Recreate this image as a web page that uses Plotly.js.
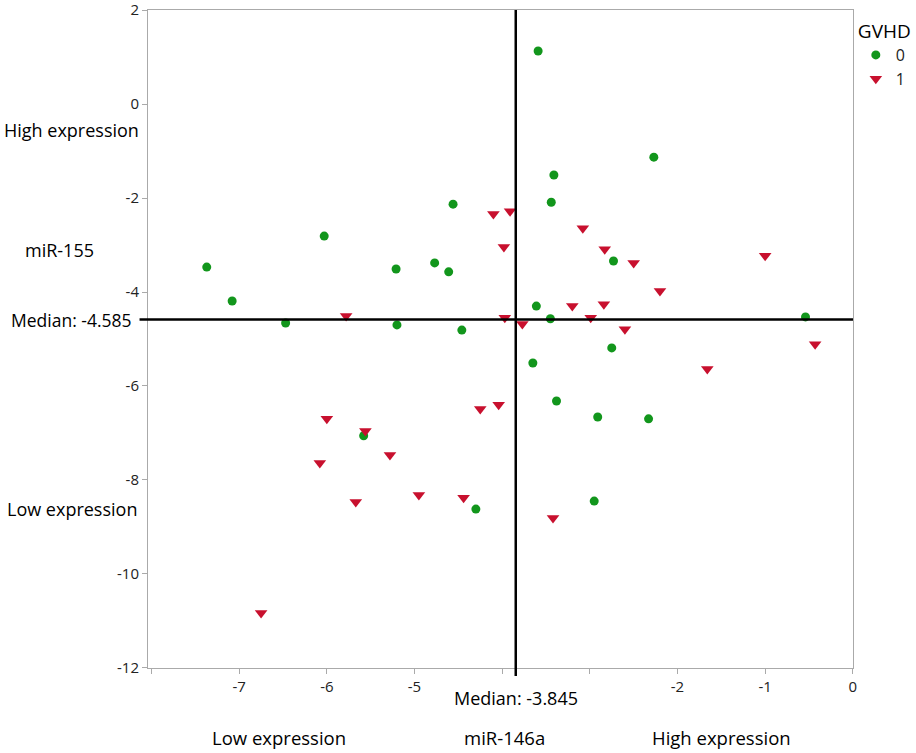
<!DOCTYPE html>
<html>
<head>
<meta charset="utf-8">
<script src="https://cdn.plot.ly/plotly-3.0.1.min.js"></script>
<style>
  html, body { margin: 0; padding: 0; background: #ffffff; }
  #grafico { width: 916px; height: 753px; }
</style>
</head>
<body>
<div id="grafico"></div>
<script>
// GVHD = 0 (circulos verdes)
var gvhd0X = [-3.59, -2.27, -3.41, -3.44, -4.56, -6.03, -7.37, -7.08, -6.47, -5.21, -4.77, -4.61, -5.20,
              -4.46, -2.73, -3.61, -3.45, -0.54, -2.75, -3.65, -3.38, -2.91, -2.33, -2.95, -5.58, -4.30];
var gvhd0Y = [1.13, -1.13, -1.51, -2.09, -2.13, -2.81, -3.47, -4.19, -4.66, -3.51, -3.38, -3.57, -4.70,
              -4.81, -3.34, -4.30, -4.57, -4.53, -5.19, -5.51, -6.32, -6.66, -6.70, -8.45, -7.06, -8.62];

// GVHD = 1 (triangulos vermelhos)
var gvhd1X = [-4.10, -3.91, -3.98, -5.78, -3.97, -3.08, -2.83, -2.50, -1.00, -2.20, -3.20, -2.84, -2.99, -3.77,
              -2.60, -0.43, -1.66, -4.25, -4.04, -6.00, -5.56, -6.08, -5.28, -5.67, -4.95, -4.44, -6.75, -3.42];
var gvhd1Y = [-2.34, -2.28, -3.04, -4.51, -4.55, -2.64, -3.09, -3.38, -3.23, -3.98, -4.30, -4.26, -4.55, -4.68,
              -4.79, -5.11, -5.64, -6.49, -6.40, -6.70, -6.96, -7.64, -7.47, -8.47, -8.32, -8.38, -10.83, -8.81];

// medianas
var medianaX = -3.845;
var medianaY = -4.585;

// ticks
var xTickVals = [-8, -7, -6, -5, -4, -3, -2, -1, 0];
var xTickText = ['', '-7', '-6', '-5', '', '', '-2', '-1', '0'];
var yTickVals = [2, 0, -2, -4, -6, -8, -10, -12];
var yTickText = ['2', '0', '-2', '-4', '-6', '-8', '-10', '-12'];

var fonte = 'Open Sans';

var trace0 = {
    x: gvhd0X, y: gvhd0Y,
    type: 'scatter', mode: 'markers', name: '0',
    marker: { color: '#12961c', size: 9, symbol: 'circle' },
    cliponaxis: false
};

var trace1 = {
    x: gvhd1X, y: gvhd1Y,
    type: 'scatter', mode: 'markers', name: '1',
    marker: { color: '#c8102e', size: 11, symbol: 'triangle-down' },
    cliponaxis: false
};

var eixoBase = {
    showgrid: false, zeroline: false,
    showline: true, mirror: true, linecolor: '#aaaaaa', linewidth: 1,
    ticks: 'outside', ticklen: 5, tickcolor: '#aaaaaa',
    tickmode: 'array', ticklabeloverflow: 'allow',
    tickfont: { family: fonte, size: 15, color: '#222222' }
};

function rotulo(texto, xref, yref, x, y, tam) {
    return { text: texto, xref: xref, yref: yref, x: x, y: y, showarrow: false,
             xanchor: 'center', yanchor: 'middle',
             font: { family: fonte, size: tam, color: '#000000' } };
}

var layout = {
    width: 916, height: 753,
    paper_bgcolor: '#ffffff', plot_bgcolor: '#ffffff',
    font: { family: fonte, color: '#000000' },
    margin: { t: 10, r: 63, b: 85, l: 148, autoexpand: false },
    xaxis: Object.assign({}, eixoBase, { range: [-8.04, 0.002], tickvals: xTickVals, ticktext: xTickText }),
    yaxis: Object.assign({}, eixoBase, { range: [-12.003, 2.003], tickvals: yTickVals, ticktext: yTickText }),
    showlegend: true,
    legend: {
        x: 1.004, xanchor: 'left', y: 0.995, yanchor: 'top',
        title: { text: 'GVHD', font: { family: fonte, size: 19, color: '#000000' } },
        font: { family: fonte, size: 16, color: '#222222' },
        bgcolor: 'rgba(0,0,0,0)', tracegroupgap: 0
    },
    shapes: [
        { type: 'line', xref: 'x', yref: 'paper', x0: medianaX, x1: medianaX, y0: -0.012, y1: 1,
          line: { color: '#000000', width: 2.5 } },
        { type: 'line', xref: 'paper', yref: 'y', x0: -0.012, x1: 1, y0: medianaY, y1: medianaY,
          line: { color: '#000000', width: 2.5 } }
    ],
    annotations: [
        rotulo('High expression', 'paper', 'paper', -0.108, 0.818, 18),
        rotulo('miR-155', 'paper', 'paper', -0.125, 0.635, 18),
        rotulo('Median: ' + medianaY, 'paper', 'y', -0.108, medianaY, 17.5),
        rotulo('Low expression', 'paper', 'paper', -0.108, 0.242, 18),
        rotulo('Median: ' + medianaX, 'x', 'paper', medianaX, -0.046, 18),
        rotulo('Low expression', 'paper', 'paper', 0.186, -0.106, 18.5),
        rotulo('miR-146a', 'paper', 'paper', 0.505, -0.106, 18.5),
        rotulo('High expression', 'paper', 'paper', 0.814, -0.106, 18.5)
    ]
};

Plotly.newPlot('grafico', [trace0, trace1], layout, { displayModeBar: false, responsive: false });
</script>
</body>
</html>
